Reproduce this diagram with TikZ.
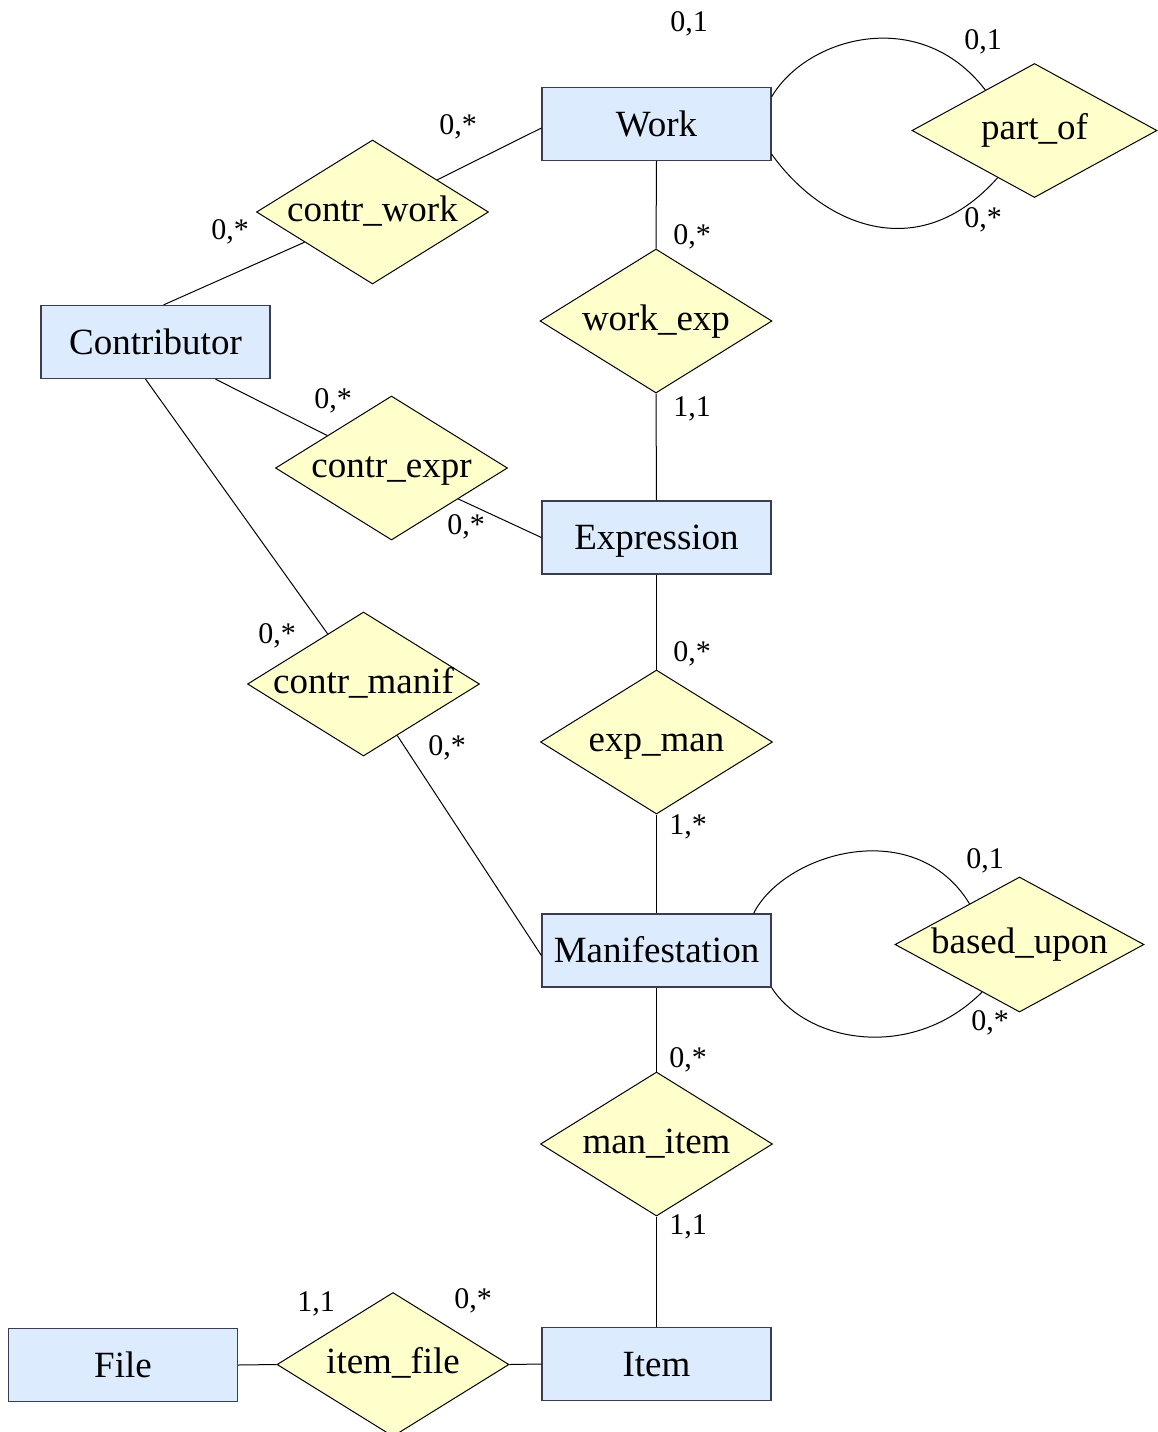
\documentclass[tikz,border=0pt]{standalone}
\usepackage{fontspec}
\setmainfont{Liberation Serif}
\usetikzlibrary{shapes.geometric,calc}
\definecolor{entblue}{RGB}{221,235,255}
\definecolor{entline}{RGB}{60,60,80}
\definecolor{relyellow}{RGB}{255,255,204}

\begin{document}
\begin{tikzpicture}
	[x=0.5pt,y=0.5pt,
	 every path/.style={line width=0.5pt},
	 entity/.style={draw=entline,fill=entblue,rectangle,line width=0.6pt,inner sep=0pt,
	   minimum width=114.5pt,minimum height=36.5pt,text height=16.6pt,text depth=4.4pt,
	   font=\fontsize{18.5}{20}\selectfont},
	 rel/.style={draw,fill=relyellow,diamond,line width=0.5pt,inner sep=0pt,
	   minimum width=116pt,minimum height=72pt},
	 reltext/.style={inner sep=0pt,text height=13.9pt,text depth=4.6pt,
	   font=\fontsize{18.5}{20}\selectfont},
	 card/.style={inner sep=1pt,font=\fontsize{15}{16}\selectfont} ]

\useasboundingbox (0,0) rectangle (1158,-1432);

% entities
\node [entity] (work) at (656.5,-124) {Work};
\node [entity] (contributor) at (155.5,-342) {Contributor};
\node [entity] (expression) at (656.5,-537.5) {Expression};
\node [entity] (manifestation) at (656.5,-950.5) {Manifestation};
\node [entity] (item) at (656.5,-1364) {Item};
\node [entity] (file) at (123,-1365) {File};

% relationships
\node [rel,label={[reltext]center:part\_of},minimum width=122.5pt,minimum height=67pt] (partof) at (1034.5,-130.5) {};
\node [rel,label={[reltext]center:contr\_work}] (contrwork) at (372.5,-212) {};
\node [rel,label={[reltext]center:work\_exp}] (workexp) at (656,-321) {};
\node [rel,label={[reltext]center:contr\_expr}] (contrexpr) at (391.5,-468) {};
\node [rel,label={[reltext]center:contr\_manif}] (contrmanif) at (363.5,-684) {};
\node [rel,label={[reltext]center:exp\_man}] (expman) at (656.5,-742) {};
\node [rel,label={[reltext]center:based\_upon},minimum width=124.5pt,minimum height=67.5pt] (basedupon) at (1019.5,-944.5) {};
\node [rel,label={[reltext]center:man\_item}] (manitem) at (656.5,-1144) {};
\node [rel,label={[reltext]center:item\_file}] (itemfile) at (393,-1364.5) {};

% connectors
\draw ([yshift=-2pt]work.west) -- (contrwork);
\draw (contrwork) -- ([xshift=4pt]contributor.north);
\draw ([xshift=30pt]contributor.south) -- (contrexpr);
\draw (contrexpr) -- (expression.west);
\draw ([xshift=-5pt]contributor.south) -- (contrmanif);
\draw (contrmanif) -- ([yshift=-2.5pt]manifestation.west);

\draw (work.south) -- (workexp.north);
\draw (workexp.south) -- (expression.north);
\draw (expression.south) -- (expman.north);
\draw (expman.south) -- (manifestation.north);
\draw (manifestation.south) -- (manitem.north);
\draw (manitem.south) -- (item.north);

\draw (file.east) -- (itemfile.west);
\draw (itemfile.east) -- (item.west);

% self loops
\coordinate (potop) at ($(partof.west)!0.6!(partof.north)$);
\coordinate (pobot) at ($(partof.west)!0.7!(partof.south)$);
\draw ([yshift=-5pt]work.north east) .. controls +(35,60) and +(-65,85) .. (potop);
\draw ([yshift=3.5pt]work.south east) .. controls +(50,-70) and +(-80,-90) .. (pobot);

\coordinate (butop) at ($(basedupon.west)!0.6!(basedupon.north)$);
\coordinate (bubot) at ($(basedupon.west)!0.7!(basedupon.south)$);
\draw ([xshift=-9pt]manifestation.north east) .. controls +(30,60) and +(-55,90) .. (butop);
\draw (manifestation.south east) .. controls +(35,-55) and +(-70,-70) .. (bubot);

% cardinalities
\node [card] (c-wtop) at (689,-24) {0,1};
\node [card] (c-po1) at (983,-42) {0,1};
\node [card] (c-po2) at (983,-220) {0,*};
\node [card] (c-cw1) at (458,-127) {0,*};
\node [card] (c-cw2) at (230,-232) {0,*};
\node [card] (c-we1) at (692,-237) {0,*};
\node [card] (c-we2) at (692,-409) {1,1};
\node [card] (c-ce1) at (333,-401) {0,*};
\node [card] (c-ce2) at (466,-527) {0,*};
\node [card] (c-cm1) at (277,-636) {0,*};
\node [card] (c-cm2) at (447,-748) {0,*};
\node [card] (c-em1) at (692,-654) {0,*};
\node [card] (c-em2) at (688,-827) {1,*};
\node [card] (c-bu1) at (985,-861) {0,1};
\node [card] (c-bu2) at (990,-1023) {0,*};
\node [card] (c-mi1) at (688,-1060) {0,*};
\node [card] (c-mi2) at (688,-1227) {1,1};
\node [card] (c-if1) at (316,-1304) {1,1};
\node [card] (c-if2) at (473,-1301) {0,*};

\end{tikzpicture}
\end{document}
